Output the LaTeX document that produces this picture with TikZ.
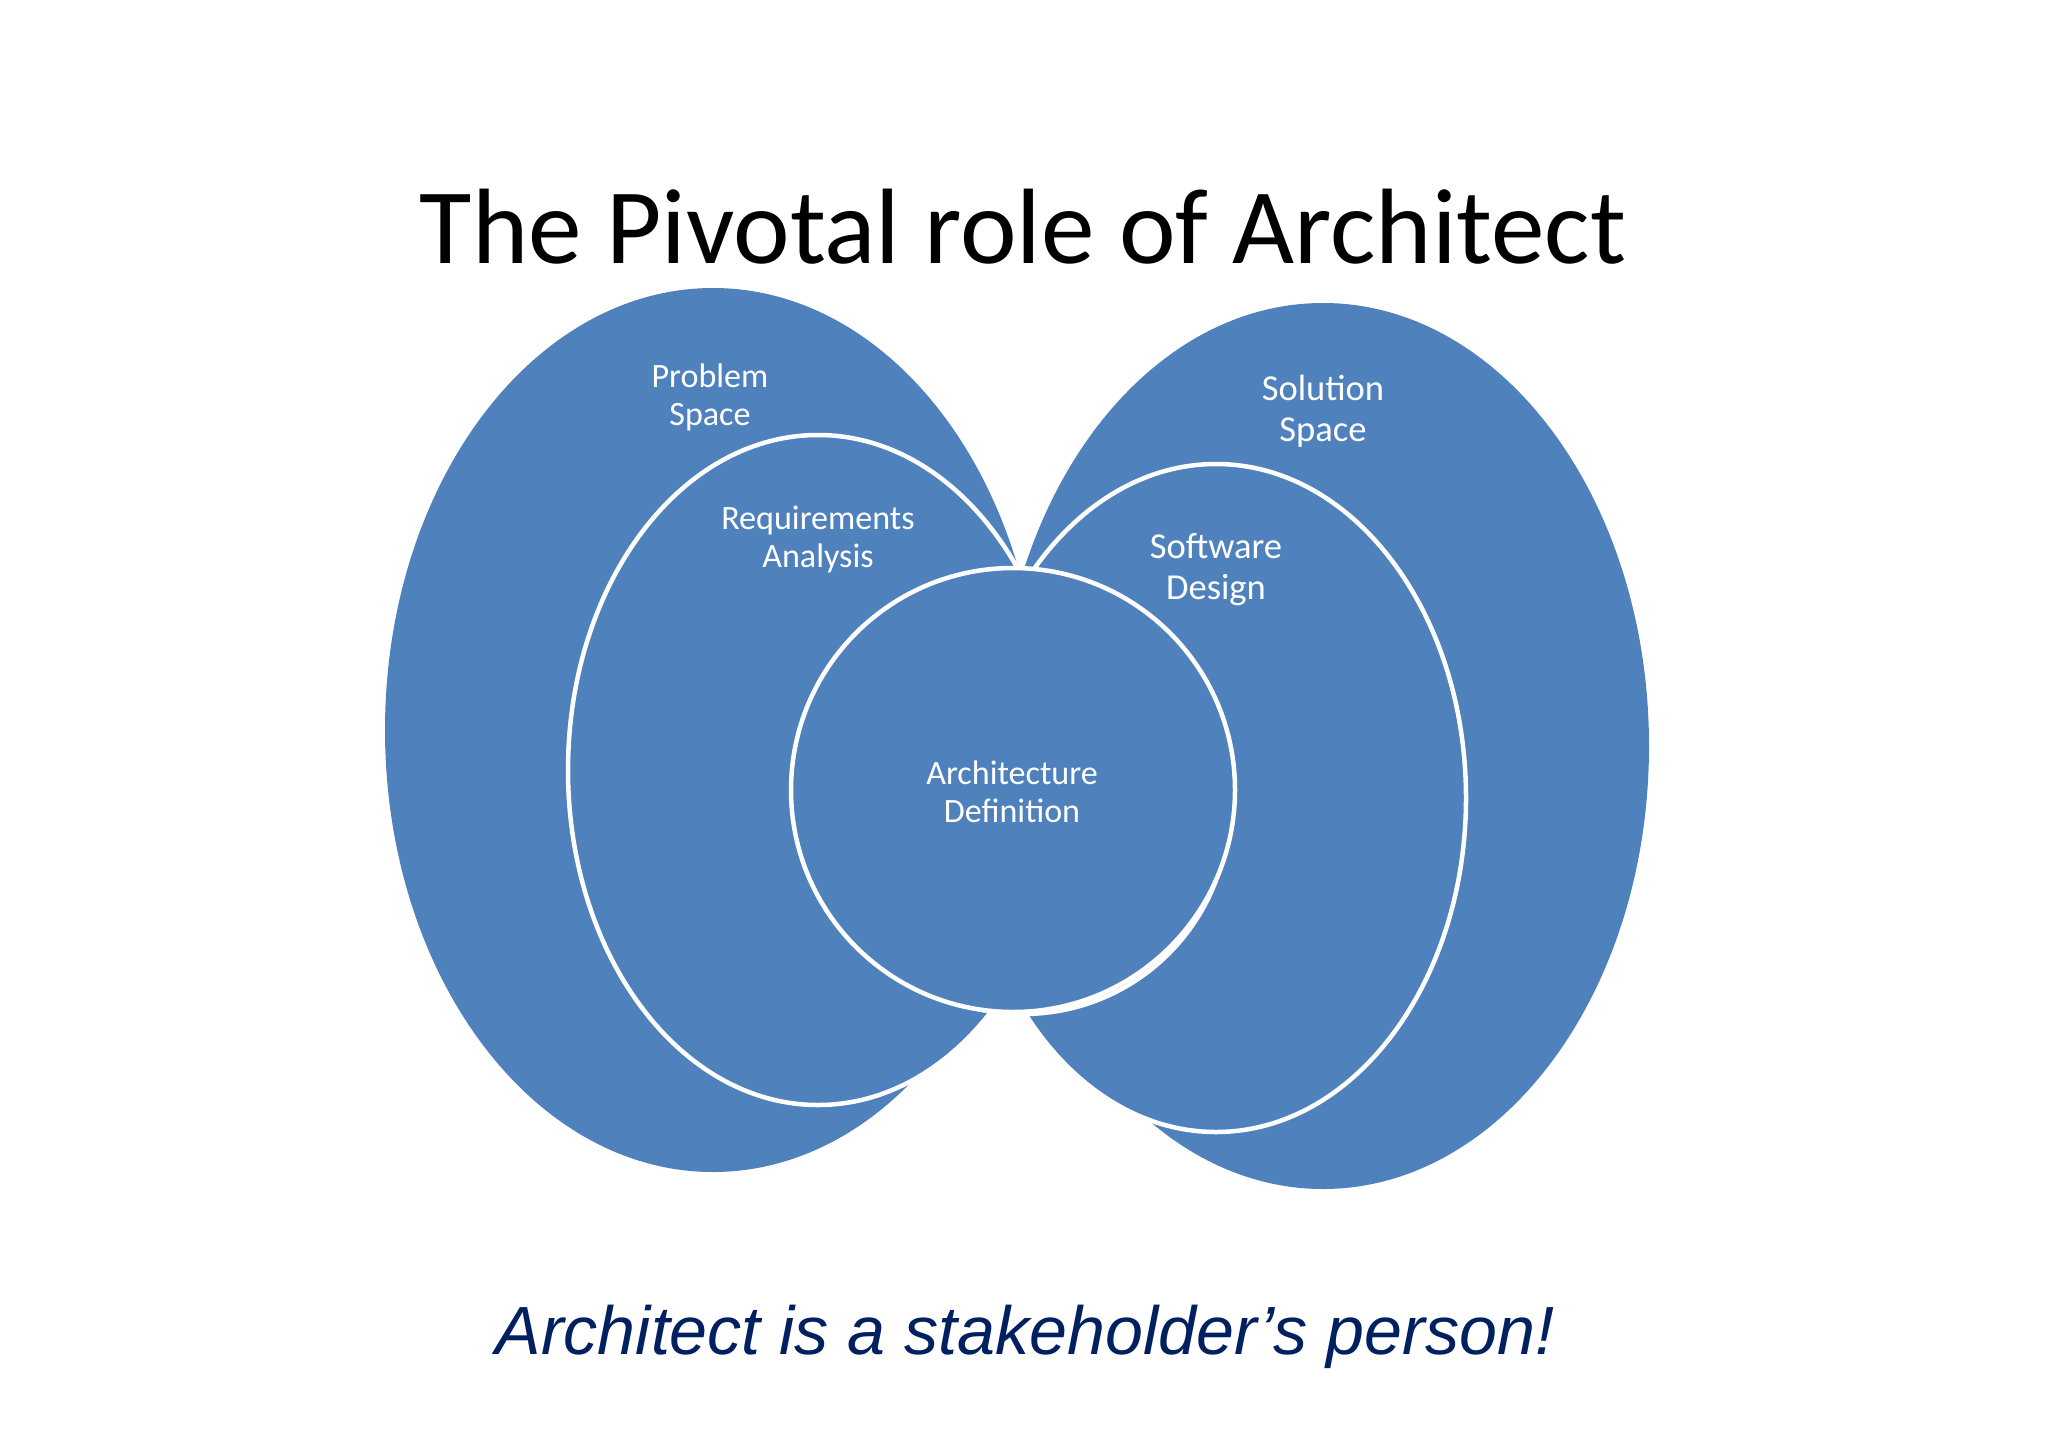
\documentclass[tikz,border=0pt]{standalone}
\usepackage{fontspec}
\setmainfont{Carlito}
\newfontfamily\mottofont{Liberation Sans}
\definecolor{accentblue}{RGB}{79,129,189}
\definecolor{mottoblue}{RGB}{0,32,96}
\tikzset{
    outer/.style={fill=accentblue},
    ring/.style={fill=accentblue,draw=white,line width=0.45mm},
    areatext/.style={text=white,align=center,inner sep=0pt,anchor=base,
        font=\fontsize{9.7}{10.8}\selectfont},
    areatextlarge/.style={areatext,font=\fontsize{10.4}{11.5}\selectfont}
}
\begin{document}
\begin{tikzpicture}
    \begin{scope}[x=0.1mm,y=-0.1mm]
        \useasboundingbox (0,0) rectangle (2048,1448);

        % big ellipses
        \fill[outer] (713,730) ellipse[x radius=328,y radius=442];
        \fill[outer] (1323,746) ellipse[x radius=326,y radius=443];

        % inner ellipses
        \filldraw[ring] (818,770) ellipse[x radius=250,y radius=335];
        \filldraw[ring] (1216,798) ellipse[x radius=250,y radius=334];

        % central circles, the back one slightly offset
        \filldraw[ring] (1023,808) circle[radius=206];
        \filldraw[ring] (1013,790) circle[radius=222];

        % labels (base = last line)
        \node[areatext] (problem) at (710,425) {Problem\\Space};
        \node[areatext] (requirements) at (818,567) {Requirements\\Analysis};
        \node[areatextlarge] (solution) at (1323,441) {Solution\\Space};
        \node[areatextlarge] (design) at (1216,599) {Software\\Design};
        \node[areatext] (architecture) at (1012,822) {Architecture\\Definition};

        % title and motto
        \node[anchor=base,inner sep=0pt,font=\fontsize{30.5}{36}\selectfont] (title) at (1023,263) {The Pivotal role of Architect};
        \node[anchor=base,inner sep=0pt,text=mottoblue,font=\mottofont\itshape\fontsize{19.4}{23}\selectfont] (motto) at (1025,1354) {Architect is a stakeholder’s person!};
    \end{scope}
\end{tikzpicture}
\end{document}
